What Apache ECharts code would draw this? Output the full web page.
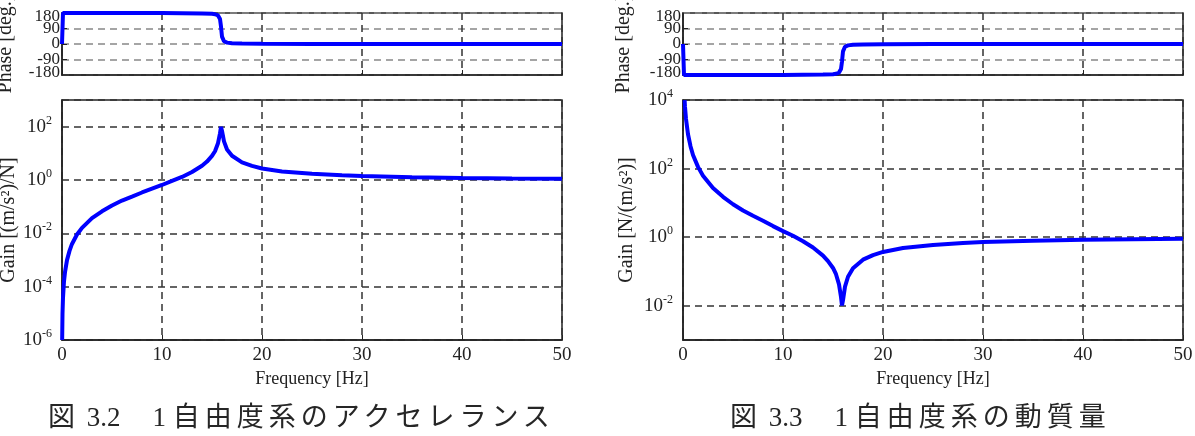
<!DOCTYPE html>
<html>
<head>
<meta charset="utf-8">
<script src="https://cdn.jsdelivr.net/npm/echarts@6/dist/echarts.min.js"></script>
<style>
  html, body { margin: 0; padding: 0; background: #fff; }
  #chart { width: 1195px; height: 436px; }
  .cap {
    position: absolute; top: 399px;
    font-family: "Liberation Serif", "Noto Sans CJK JP", serif;
    font-size: 27px; line-height: 32px;
    color: #262626; white-space: pre;
  }
  .cap .jp { font-family: "Noto Sans CJK JP", sans-serif; letter-spacing: 5px; }
</style>
</head>
<body>
<div id="chart"></div>
<div class="cap" style="left:48px"><span class="jp">図</span> 3.2<span class="jp">　</span>1 <span class="jp">自由度系のアクセレランス</span></div>
<div class="cap" style="left:730px"><span class="jp">図</span> 3.3<span class="jp">　</span>1 <span class="jp">自由度系の動質量</span></div>
<script>
// accelerance (left figure)
var freqAccel = [0.016, 0.05, 0.1, 0.2, 0.3, 0.5, 0.75, 1, 1.5, 2, 3, 4, 5, 6, 7, 8, 9, 10, 11, 12, 13, 14, 14.5, 15,
  15.3, 15.6, 15.8, 15.9, 16.0, 16.2, 16.5, 17, 18, 19, 20, 22, 25, 28, 30, 35, 40, 45, 50];
var gainAccel = [1.0e-6, 9.9e-6, 3.9e-5, 1.6e-4, 3.5e-4, 9.9e-4, 2.2e-3, 4.0e-3, 9.0e-3, 0.016, 0.037, 0.067, 0.11,
  0.17, 0.24, 0.34, 0.47, 0.65, 0.92, 1.3, 2.0, 3.4, 4.9, 8.0, 12, 24, 56, 98, 69, 28, 14, 8.1, 4.6, 3.4, 2.7, 2.1,
  1.7, 1.5, 1.4, 1.26, 1.19, 1.14, 1.11];

// dynamic mass (right figure)
var freqMass = [0.16, 0.2, 0.3, 0.5, 0.75, 1, 1.5, 2, 3, 4, 5, 6, 7, 8, 9, 10, 11, 12, 13, 14, 14.5, 15,
  15.3, 15.6, 15.8, 15.9, 16.0, 16.2, 16.5, 17, 18, 19, 20, 22, 25, 28, 30, 35, 40, 45, 50];
var gainMass = [9900, 6300, 2800, 1000, 450, 250, 112, 62, 27, 15, 9.1, 6.0, 4.2, 3.0, 2.1, 1.5, 1.1, 0.76, 0.50,
  0.29, 0.20, 0.126, 0.083, 0.042, 0.018, 0.0102, 0.0145, 0.036, 0.070, 0.124, 0.22, 0.30, 0.37, 0.48, 0.59, 0.68,
  0.72, 0.79, 0.84, 0.87, 0.90];

// phase curves (deg)
var freqPhase = [0, 0.1, 5, 10, 14, 15, 15.3, 15.6, 15.8, 15.9, 16.0, 16.2, 16.5, 17, 18, 20, 25, 30, 40, 50];
var phaseAccel = [0, 180, 179.7, 179.4, 177.8, 175.2, 172.8, 166, 145, 101, 43, 16, 8, 4.3, 2.3, 1.2, 0.6, 0.4, 0.3, 0.2];
var phaseMass = [0, -180, -179.7, -179.4, -177.8, -175.2, -172.8, -166, -145, -101, -43, -16, -8, -4.3, -2.3, -1.2,
  -0.6, -0.4, -0.3, -0.2];

var xTicks = [0, 10, 20, 30, 40, 50];
var phaseTicks = [-180, -90, 0, 90, 180];

var serif = "'Liberation Serif', 'Times New Roman', serif";
var ink = '#222';

function pairs(xs, ys) {
  var res = [];
  for (var i = 0; i < xs.length; i++) res.push([xs[i], ys[i]]);
  return res;
}

function xAxis(idx, withLabels) {
  return {
    type: 'value', gridIndex: idx,
    min: xTicks[0], max: xTicks[xTicks.length - 1], interval: xTicks[1] - xTicks[0],
    axisLine: { show: true, onZero: false, lineStyle: { color: ink, width: 1.5 } },
    axisTick: { show: true, inside: true, length: 5, lineStyle: { color: ink } },
    axisLabel: { show: withLabels, color: ink, fontFamily: serif, fontSize: 19, margin: 6 },
    splitLine: { show: true, lineStyle: { color: '#333', type: [7, 5], width: 1.5 } },
    name: withLabels ? 'Frequency [Hz]' : '',
    nameLocation: 'middle', nameGap: 28,
    nameTextStyle: { color: ink, fontFamily: serif, fontSize: 18 }
  };
}

// phase axis: grid, -90/0/90 labels and the name
function phaseAxis(idx, gap) {
  return {
    type: 'value', gridIndex: idx, position: 'left',
    min: phaseTicks[0], max: phaseTicks[phaseTicks.length - 1], interval: 90,
    axisLine: { show: true, onZero: false, lineStyle: { color: ink, width: 1.5 } },
    axisTick: { show: true, inside: true, length: 5, lineStyle: { color: ink } },
    axisLabel: {
      color: ink, fontFamily: serif, fontSize: 17, margin: 2,
      showMinLabel: false, showMaxLabel: false, hideOverlap: false
    },
    splitLine: { show: true, lineStyle: { color: '#888', type: [7, 5], width: 1.5 } },
    name: 'Phase [deg.]', nameLocation: 'middle', nameGap: gap,
    nameTextStyle: { color: ink, fontFamily: serif, fontSize: 20 }
  };
}

// companion axis carrying only the +-180 labels, nudged inward like the original
function phaseEnds(idx) {
  return {
    type: 'value', gridIndex: idx, position: 'left',
    min: phaseTicks[0], max: phaseTicks[phaseTicks.length - 1], interval: 360,
    axisLine: { show: false }, axisTick: { show: false }, splitLine: { show: false },
    axisLabel: {
      color: ink, fontFamily: serif, fontSize: 17, margin: 2,
      showMinLabel: true, showMaxLabel: true, hideOverlap: false,
      formatter: function (v) { return v > 0 ? '{t|' + v + '}' : '{m|' + v + '}'; },
      rich: {
        t: { padding: [8, 0, 0, 0] },
        m: { padding: [0, 0, 5, 0] }
      }
    }
  };
}

function gainAxis(idx, lo, hi, label, gap) {
  return {
    type: 'log', logBase: 100, gridIndex: idx, min: lo, max: hi,
    axisLine: { show: true, onZero: false, lineStyle: { color: ink, width: 1.5 } },
    axisTick: { show: false },
    axisLabel: {
      margin: 10, showMinLabel: true, showMaxLabel: true, hideOverlap: false,
      formatter: function (v) {
        var e = Math.round(Math.log10(v));
        if (e % 2 !== 0) return '';
        return '{b|10}{s|' + e + '}';
      },
      rich: {
        b: { color: ink, fontFamily: serif, fontSize: 19, lineHeight: 24 },
        s: { color: ink, fontFamily: serif, fontSize: 12, lineHeight: 12, verticalAlign: 'top' }
      }
    },
    splitLine: { show: true, lineStyle: { color: '#333', type: [7, 5], width: 1.5 } },
    name: label, nameLocation: 'middle', nameGap: gap,
    nameTextStyle: { color: ink, fontFamily: serif, fontSize: 20 }
  };
}

function line(xi, yi, data) {
  return {
    type: 'line', xAxisIndex: xi, yAxisIndex: yi, data: data,
    showSymbol: false, animation: false, clip: true,
    lineStyle: { color: '#0000ff', width: 4 }
  };
}

var box = {
  show: true, borderColor: ink, borderWidth: 1.5, backgroundColor: 'transparent',
  containLabel: false, outerBoundsMode: 'none'
};

var chart = echarts.init(document.getElementById('chart'));
chart.setOption({
  backgroundColor: '#fff',
  animation: false,
  grid: [
    Object.assign({ left: 62, top: 13, width: 500, height: 62 }, box),
    Object.assign({ left: 62, top: 100, width: 500, height: 240 }, box),
    Object.assign({ left: 683, top: 13, width: 500, height: 62 }, box),
    Object.assign({ left: 683, top: 100, width: 500, height: 240 }, box)
  ],
  xAxis: [xAxis(0, false), xAxis(1, true), xAxis(2, false), xAxis(3, true)],
  yAxis: [
    phaseAxis(0, 46),
    phaseEnds(0),
    gainAxis(1, 1e-6, 1e3, 'Gain [(m/s²)/N]', 42),
    phaseAxis(2, 49),
    phaseEnds(2),
    gainAxis(3, 1e-3, 1e4, 'Gain [N/(m/s²)]', 46)
  ],
  series: [
    line(0, 0, pairs(freqPhase, phaseAccel)),
    line(1, 2, pairs(freqAccel, gainAccel)),
    line(2, 3, pairs(freqPhase, phaseMass)),
    line(3, 5, pairs(freqMass, gainMass))
  ]
});
</script>
</body>
</html>
